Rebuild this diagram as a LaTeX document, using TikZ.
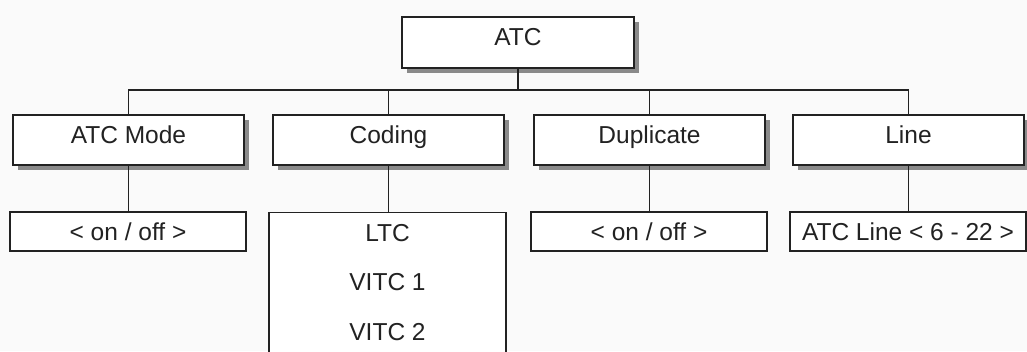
\documentclass[tikz,border=0pt]{standalone}
\usepackage{fontspec}
\setmainfont{Liberation Sans}
\usetikzlibrary{shadows}
\definecolor{bg}{HTML}{FAFAFA}
\definecolor{ink}{HTML}{222222}
\definecolor{shade}{HTML}{8A8A8A}
\tikzset{
  txt/.style={text=ink, font=\fontsize{24.5}{28}\selectfont, inner sep=0pt,
    text height=17.5pt, text depth=0pt},
  box/.style={txt, draw=ink, line width=1.4pt, fill=white},
  shbox/.style={box, minimum width=231pt, minimum height=50pt, text depth=11.5pt,
    drop shadow={shadow xshift=5pt, shadow yshift=-5pt, fill=shade, opacity=1}},
  subbox/.style={box, minimum width=236pt, minimum height=39pt},
  link/.style={draw=ink, line width=1.4pt}
}
\begin{document}
\begin{tikzpicture}[x=1pt,y=-1pt]
\fill[bg] (0,0) rectangle (1027,351);
\useasboundingbox (0,0) rectangle (1027,351);
\node[shbox, minimum width=232pt, minimum height=51pt] (atc) at (518,42.5) {ATC};
\node[shbox] (mode) at (128.5,140) {ATC Mode};
\node[shbox] (coding) at (388.5,140) {Coding};
\node[shbox] (dup) at (649.5,140) {Duplicate};
\node[shbox] (line) at (908.5,140) {Line};
\node[subbox] (onoffa) at (128,231.5) {< on / off >};
\node[box, minimum width=237pt, minimum height=144pt, anchor=north] (codes) at (387.5,212) {};
\node[txt] (ltc) at (387.5,233) {LTC};
\node[txt] (vitca) at (387.5,282) {VITC 1};
\node[txt] (vitcb) at (387.5,332) {VITC 2};
\node[subbox] (onoffb) at (649,231.5) {< on / off >};
\node[subbox] (atcline) at (908,231.5) {ATC Line < 6 - 22 >};
\coordinate (bus) at (518,90);
\draw[link] (atc.south) -- (atc.south |- bus);
\draw[link] (mode.north) -- (mode.north |- bus) -- (line.north |- bus) -- (line.north);
\draw[link] (coding.north) -- (coding.north |- bus);
\draw[link] (dup.north) -- (dup.north |- bus);
\draw[link] (mode.south) -- (onoffa.north -| mode.south);
\draw[link] (coding.south) -- (codes.north -| coding.south);
\draw[link] (dup.south) -- (onoffb.north -| dup.south);
\draw[link] (line.south) -- (atcline.north -| line.south);
\end{tikzpicture}
\end{document}
